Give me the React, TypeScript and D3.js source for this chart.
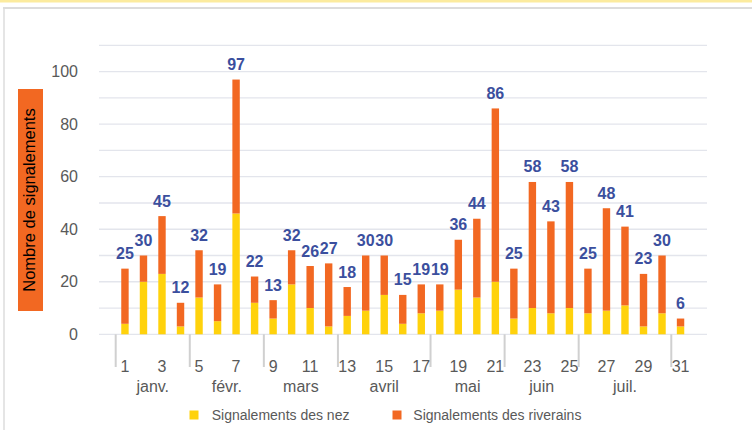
import * as d3 from "d3";

const weeks = [1, 2, 3, 4, 5, 6, 7, 8, 9, 10, 11, 12, 13, 14, 15, 16, 17, 18, 19, 20, 21, 22, 23, 24, 25, 26, 27, 28, 29, 30, 31];
const nez = [4, 20, 23, 3, 14, 5, 46, 12, 6, 19, 10, 3, 7, 9, 15, 4, 8, 9, 17, 14, 20, 6, 10, 8, 10, 8, 9, 11, 3, 8, 3];
const riverains = [21, 10, 22, 9, 18, 14, 51, 10, 7, 13, 16, 24, 11, 21, 15, 11, 11, 10, 19, 30, 66, 19, 48, 35, 48, 17, 39, 30, 20, 22, 3];
const monthNames = ["janv.", "févr.", "mars", "avril", "mai", "juin", "juil."];
const monthFirstWeek = [1, 5, 9, 13, 18, 22, 26];
const monthLastWeek = [4, 8, 12, 17, 21, 25, 30];
const yTicks = [0, 20, 40, 60, 80, 100];
const gridValues = [0, 10, 20, 30, 40, 50, 60, 70, 80, 90, 100, 110];

const YELLOW = "#FFD20C";
const ORANGE = "#F26822";
const BLUE = "#3B4F9E";
const GREY_TEXT = "#595959";
const FONT = "'Liberation Sans', Arial, sans-serif";

export default function App() {
  const x = d3.scaleBand<number>().domain(weeks).range([115.7, 689.8]).paddingInner(0.6).paddingOuter(0.3);
  const y = d3.scaleLinear().domain([0, 110]).range([334.3, 45.4]);
  const step = x.step();
  const bw = x.bandwidth();
  const cx = (w: number) => (x(w) as number) + bw / 2;
  const left = (w: number) => cx(w) - step / 2;

  const boundaries = monthFirstWeek.concat([31]);

  return (
    <svg width={752} height={430} style={{ position: "absolute", left: 0, top: 0, background: "#fff" }} fontFamily={FONT}>
      {/* frame */}
      <rect x={0} y={0} width={752} height={2.5} fill="#FCEB9E" />
      <line x1={3} x2={752} y1={8} y2={8} stroke="#dcdcdc" strokeWidth={2} />
      <line x1={4} x2={4} y1={8} y2={430} stroke="#dcdcdc" strokeWidth={1.5} />

      {/* gridlines */}
      {gridValues.map((v) => (
        <line key={v} x1={99} x2={707} y1={y(v)} y2={y(v)} stroke="#e3e5ec" strokeWidth={1.3} />
      ))}

      {/* y axis labels */}
      {yTicks.map((v) => (
        <text key={v} x={78} y={y(v)} dy="0.35em" textAnchor="end" fontSize={16} fill={GREY_TEXT}>
          {v}
        </text>
      ))}

      {/* y title */}
      <rect x={18} y={89} width={25} height={222} fill={ORANGE} />
      <text transform={`translate(35,200) rotate(-90)`} textAnchor="middle" fontSize={16.5} fill="#000">
        Nombre de signalements
      </text>

      {/* bars */}
      {weeks.map((w, i) => (
        <g key={w}>
          <rect x={x(w)} y={y(nez[i])} width={bw} height={y(0) - y(nez[i])} fill={YELLOW} />
          <rect
            x={x(w)}
            y={y(nez[i] + riverains[i])}
            width={bw}
            height={y(nez[i]) - y(nez[i] + riverains[i])}
            fill={ORANGE}
          />
          <text
            x={cx(w)}
            y={y(nez[i] + riverains[i]) - 9.5}
            textAnchor="middle"
            fontSize={16}
            fontWeight="bold"
            fill={BLUE}
          >
            {nez[i] + riverains[i]}
          </text>
        </g>
      ))}

      {/* month ticks */}
      {boundaries.map((w) => (
        <line key={w} x1={left(w)} x2={left(w)} y1={334.3} y2={367} stroke="#d0d0d0" strokeWidth={2} />
      ))}

      {/* week labels */}
      {weeks.filter((w) => w % 2 === 1).map((w) => (
        <text key={w} x={cx(w)} y={372} textAnchor="middle" fontSize={16} fill={GREY_TEXT}>
          {w}
        </text>
      ))}

      {/* month labels */}
      {monthNames.map((m, i) => (
        <text
          key={m}
          x={(left(monthFirstWeek[i]) + left(monthLastWeek[i]) + step) / 2}
          y={392}
          textAnchor="middle"
          fontSize={16}
          fill={GREY_TEXT}
        >
          {m}
        </text>
      ))}

      {/* legend */}
      <rect x={189.5} y={410.5} width={9} height={9} fill={YELLOW} />
      <text x={211.7} y={420} fontSize={14} fill={GREY_TEXT}>
        Signalements des nez
      </text>
      <rect x={392.5} y={410.5} width={9} height={9} fill={ORANGE} />
      <text x={413.3} y={420} fontSize={14} fill={GREY_TEXT}>
        Signalements des riverains
      </text>
    </svg>
  );
}
